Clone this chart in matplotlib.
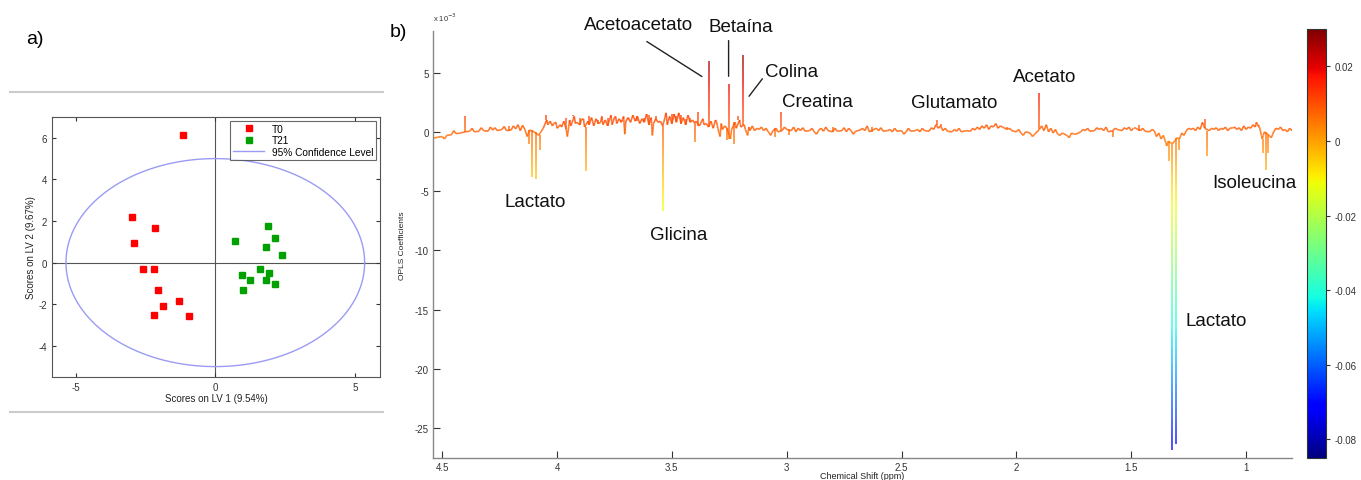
import numpy as np
import matplotlib
matplotlib.use('Agg')
import matplotlib.pyplot as plt
from matplotlib.collections import LineCollection
from matplotlib.lines import Line2D
from matplotlib import colors, cm
from matplotlib.ticker import FuncFormatter

plt.rcParams.update({
    'font.family': 'sans-serif',
    'font.sans-serif': ['Liberation Sans', 'DejaVu Sans'],
    'axes.unicode_minus': False,
})

W, H = 1361, 481

# ---- panel a: scores ----
T0_X = [-1.14, -2.99, -2.17, -2.90, -2.59, -2.20, -2.07, -1.29, -1.89, -2.18, -0.95]
T0_Y = [6.13, 2.21, 1.66, 0.94, -0.32, -0.32, -1.30, -1.86, -2.10, -2.53, -2.56]
T21_X = [1.90, 2.15, 0.72, 1.80, 2.38, 1.61, 1.92, 0.95, 1.24, 1.83, 2.14, 0.99]
T21_Y = [1.74, 1.18, 1.04, 0.74, 0.37, -0.32, -0.50, -0.59, -0.86, -0.85, -1.02, -1.30]
CONF_RX, CONF_RY = 5.35, 5.0

# ---- panel b: OPLS coefficients (x 1e-3) ----
# baseline sampled every 0.02 ppm from 4.54 down to 0.80
BASE_PPM_RANGE = (4.54, 0.80)
BASE_VALS = [
    -0.55, -0.45, -0.4, -0.3, -0.25, -0.15, -0.1, 0.0, 0.05, 0.0,
    0.05, 0.1, 0.05, 0.15, 0.1, 0.2, 0.1, 0.15, 0.25, 0.1,
    0.2, 0.15, 0.0, -0.3, 0.3, 0.6, 0.5, 0.3, 0.4, 0.2,
    0.5, 0.7, 0.6, 0.4, 0.6, 0.5, 0.7, 0.6, 0.5, 0.6,
    0.7, 0.8, 0.9, 0.8, 0.9, 0.7, 0.8, 0.6, 0.7, 0.8,
    0.5, 0.6, 0.7, 0.8, 0.7, 0.6, 0.8, 0.7, 0.5, 0.6,
    0.4, 0.3, 0.3, 0.2, 0.3, 0.2, 0.3, 0.4, 0.2, 0.1,
    0.1, 0.2, 0.1, 0.0, 0.1, 0.0, 0.1, 0.2, 0.1, 0.0,
    0.1, 0.05, 0.1, 0.0, 0.15, 0.05, 0.1, 0.0, 0.05, 0.1,
    0.0, 0.1, 0.05, 0.15, 0.1, 0.0, 0.2, 0.1, 0.05, 0.1,
    0.0, 0.05, 0.1, 0.0, 0.05, 0.1, 0.0, 0.1, 0.05, 0.2,
    0.3, 0.1, 0.05, 0.0, 0.05, 0.0, 0.1, 0.05, 0.15, 0.2,
    0.3, 0.2, 0.4, 0.3, 0.4, 0.2, 0.1, 0.0, -0.1, 0.0,
    -0.1, -0.2, 0.2, 0.1, 0.0, -0.1, -0.2, -0.1, -0.3, -0.1,
    -0.2, 0.0, 0.1, 0.05, 0.1, 0.2, 0.1, 0.0, 0.1, 0.2,
    0.1, 0.2, 0.1, 0.3, 0.1, 0.05, 0.0, 0.1, -0.1, -0.3,
    -0.8, -1.0, -0.5, -0.1, 0.1, 0.2, 0.1, 0.2, 0.3, 0.1,
    0.2, 0.1, 0.2, 0.1, 0.3, 0.2, 0.1, 0.2, 0.3, 0.4,
    0.3, 0.0, -0.3, 0.0, 0.2, 0.1, 0.0, 0.1,
]
# main signals (narrow lines)
PEAK_PPM = [4.40, 4.21, 4.12, 4.11, 4.09, 4.075, 4.05, 3.96, 3.93, 3.90,
            3.875, 3.86, 3.82, 3.78, 3.72, 3.69, 3.65, 3.62, 3.60, 3.57,
            3.54, 3.50, 3.48, 3.46, 3.44, 3.42, 3.40, 3.386, 3.34, 3.26,
            3.25, 3.23, 3.21, 3.19, 3.05, 3.025, 2.99, 2.80, 2.63, 2.345,
            2.33, 2.04, 1.90, 1.58, 1.465, 1.335, 1.322, 1.304, 1.29, 1.18,
            1.17, 0.945, 0.925, 0.915, 0.905, 0.87]
PEAK_VAL = [1.3, 0.5, -1.0, -3.8, -4.0, -1.5, 1.46, 1.2, 1.4, 1.2,
            -3.3, 1.3, 1.0, 1.2, 1.0, 1.1, 0.9, 1.2, 1.4, 1.3,
            -6.7, 1.5, 1.3, 1.4, 1.1, 1.2, -0.9, 1.7, 5.95, -0.7,
            4.0, -1.0, 1.3, 6.5, -0.4, 1.7, -0.3, 0.4, 0.4, 1.0,
            0.7, 0.4, 3.3, -0.4, 0.6, -2.5, -26.8, -26.3, -1.5, 1.1,
            -2.05, 0.5, -1.8, -3.2, -1.8, 0.3]
# extra trace points between the baseline samples
NOISE_PPM = [4.49, 4.45, 4.37, 4.33, 4.29, 4.27, 4.23, 4.19, 4.17, 4.15,
             4.13, 4.045, 4.03, 4.015, 4.005, 3.985, 3.97, 3.955, 3.945, 3.925,
             3.915, 3.895, 3.885, 3.865, 3.85, 3.845, 3.83, 3.81, 3.805, 3.79,
             3.77, 3.765, 3.75, 3.745, 3.73, 3.71, 3.705, 3.69, 3.67, 3.665,
             3.65, 3.63, 3.61, 3.59, 3.585, 3.57, 3.55, 3.53, 3.525, 3.51,
             3.49, 3.47, 3.45, 3.43, 3.41, 3.395, 3.37, 3.365, 3.35, 3.33,
             3.325, 3.31, 3.305, 3.29, 3.285, 3.27, 3.245, 3.225, 3.205, 3.185,
             3.17, 3.165, 3.15, 3.13, 3.11, 3.09, 3.07, 3.045, 3.01, 2.97,
             2.95, 2.93, 2.89, 2.87, 2.85, 2.83, 2.79, 2.75, 2.73, 2.71,
             2.67, 2.65, 2.61, 2.59, 2.55, 2.53, 2.49, 2.47, 2.43, 2.41,
             2.37, 2.35, 2.33, 2.31, 2.27, 2.25, 2.19, 2.17, 2.15, 2.13,
             2.11, 2.09, 2.07, 2.03, 1.99, 1.97, 1.93, 1.89, 1.87, 1.85,
             1.83, 1.81, 1.77, 1.75, 1.71, 1.69, 1.65, 1.63, 1.61, 1.57,
             1.53, 1.51, 1.49, 1.45, 1.41, 1.39, 1.37, 1.345, 1.29, 1.27,
             1.25, 1.23, 1.21, 1.19, 1.15, 1.13, 1.11, 1.09, 1.07, 1.05,
             1.03, 1.01, 0.99, 0.97, 0.955, 0.95, 0.93, 0.89, 0.87, 0.85,
             0.83, 0.81]
NOISE_VAL = [-0.6, 0.1, 0.3, 0.35, 0.4, 0.35, 0.45, 0.5, 0.6, 0.55,
             -0.4, 1.0, 0.9, 0.7, 0.8, 0.6, 0.9, -0.4, 1.0, 1.3,
             0.8, 1.0, 1.1, 0.9, 1.2, 0.9, 1.1, 0.8, 1.3, 1.0,
             1.1, 1.4, 1.2, 1.3, 1.1, 1.3, -0.2, 1.2, 1.4, 1.2,
             1.3, 1.1, 1.5, 1.2, -0.3, 1.1, 0.9, 1.2, 1.6, 1.3,
             1.5, 1.6, 1.2, 1.4, 1.0, 0.9, 0.9, 1.1, 0.7, 0.9,
             0.6, 1.0, 0.8, -0.4, 0.7, 0.5, -0.6, 0.8, 1.0, 0.6,
             -0.3, 0.4, 0.5, 0.3, 0.4, 0.3, -0.3, 0.3, 0.4, 0.4,
             0.3, 0.35, 0.3, -0.2, 0.3, 0.4, 0.3, 0.35, 0.3, -0.2,
             0.3, 0.5, 0.3, 0.35, 0.2, 0.3, -0.2, 0.3, 0.2, 0.3,
             0.35, 0.6, 0.5, 0.3, 0.2, 0.3, 0.3, 0.4, 0.5, 0.6,
             0.5, 0.7, 0.5, 0.3, 0.2, -0.3, -0.4, 0.5, 0.6, 0.3,
             0.2, -0.3, -0.5, -0.2, 0.2, 0.3, 0.35, 0.3, 0.4, 0.3,
             0.35, 0.4, 0.3, 0.3, 0.2, -0.4, -0.6, -1.2, -0.6, -0.3,
             0.3, 0.3, 0.4, 0.8, 0.3, 0.35, 0.3, 0.4, 0.3, 0.4,
             0.35, 0.5, 0.4, 0.6, 0.8, 0.6, -0.6, -0.5, 0.3, 0.4,
             0.2, 0.3]

CB_TICKS = [-0.08, -0.06, -0.04, -0.02, 0, 0.02]

# metabolite labels: (text, ppm, value)
LABELS = [
    ('Acetoacetato', 3.645, 9.05), ('Betaína', 3.20, 8.9),
    ('Colina', 2.978, 5.1), ('Creatina', 2.866, 2.58),
    ('Glutamato', 2.27, 2.44), ('Acetato', 1.876, 4.68),
    ('Lactato', 4.093, -5.85), ('Glicina', 3.47, -8.65),
    ('Isoleucina', 0.962, -4.3), ('Lactato', 1.131, -15.87),
]
LEADERS = [((3.609, 7.61), (3.369, 4.66)),
           ((3.253, 7.69), (3.253, 4.68)),
           ((3.106, 4.47), (3.164, 3.0))]


def px_ax(left, top, right, bottom):
    return [left / W, 1 - bottom / H, (right - left) / W, (bottom - top) / H]


fig = plt.figure(figsize=(W / 100, H / 100), dpi=100)

# ================= panel a =================
ax = fig.add_axes(px_ax(52, 118, 380, 378))
ax.axhline(0, color='#555555', lw=0.8, zorder=1)
ax.axvline(0, color='#555555', lw=0.8, zorder=1)
th = np.linspace(0, 2 * np.pi, 300)
ax.plot(T0_X, T0_Y, 's', color='#ff0000', ms=5, mec='#ff0000', label='T0', zorder=3)
ax.plot(T21_X, T21_Y, 's', color='#00a000', ms=5, mec='#00a000', label='T21', zorder=3)
ax.plot(CONF_RX * np.cos(th), CONF_RY * np.sin(th), color='#9b9bf5', lw=1.0,
        label='95% Confidence Level', zorder=2)
ax.set_xlim(-5.85, 5.9)
ax.set_ylim(-5.5, 7)
ax.set_xticks([-5, 0, 5])
ax.set_yticks([-4, -2, 0, 2, 4, 6])
ax.tick_params(direction='in', top=True, right=True, labelsize=7, length=3,
               colors='#333333')
for s in ax.spines.values():
    s.set_color('#555555')
    s.set_linewidth(0.8)
ax.set_xlabel('Scores on LV 1 (9.54%)', fontsize=7, labelpad=1, color='#222222')
ax.set_ylabel('Scores on LV 2 (9.67%)', fontsize=7, labelpad=2, color='#222222')
leg = ax.legend(loc='upper right', fontsize=7.3, frameon=True, fancybox=False,
                edgecolor='#444444', borderpad=0.3, labelspacing=0.15,
                handlelength=3.0, borderaxespad=0.35)
leg.get_frame().set_linewidth(0.8)

for yy in (93, 413):
    fig.add_artist(Line2D([10 / W, 383 / W], [1 - yy / H, 1 - yy / H],
                          color='#cccccc', lw=1.5, transform=fig.transFigure))
fig.text(35 / W, 1 - 40 / H, 'a)', fontsize=14, ha='center', va='center')

# ================= panel b =================
bx = fig.add_axes(px_ax(433, 32, 1292, 459))
norm = colors.Normalize(vmin=-0.085, vmax=0.030)
cmap = plt.get_cmap('jet')

base_ppm = np.linspace(BASE_PPM_RANGE[0], BASE_PPM_RANGE[1], len(BASE_VALS))
trace_ppm = np.concatenate([base_ppm, NOISE_PPM])
trace_val = np.concatenate([BASE_VALS, NOISE_VAL])
order = np.argsort(-trace_ppm, kind='stable')
trace_ppm, trace_val = trace_ppm[order], trace_val[order]


def split(x0, y0, x1, y1, segs, mids):
    n = max(1, int(abs(y1 - y0) / 0.25))
    t = np.linspace(0, 1, n + 1)
    xs = x0 + (x1 - x0) * t
    ys = y0 + (y1 - y0) * t
    for k in range(n):
        segs.append([(xs[k], ys[k]), (xs[k + 1], ys[k + 1])])
        mids.append(0.5 * (ys[k] + ys[k + 1]))


segs, mids = [], []
for i in range(len(trace_ppm) - 1):
    split(trace_ppm[i], trace_val[i], trace_ppm[i + 1], trace_val[i + 1], segs, mids)
for p, v in zip(PEAK_PPM, PEAK_VAL):
    b = trace_val[np.argmin(np.abs(trace_ppm - p))]
    split(p, b, p, v, segs, mids)

cvals = 0.003 * np.array(mids) + 0.0075   # colour on correlation scale
lc = LineCollection(segs, cmap=cmap, norm=norm, linewidths=1.2, alpha=0.8)
lc.set_array(cvals)
bx.add_collection(lc)

bx.set_xlim(4.54, 0.80)
bx.set_ylim(-27.5, 8.5)
bx.set_xticks([4.5, 4, 3.5, 3, 2.5, 2, 1.5, 1])
bx.set_xticklabels(['4.5', '4', '3.5', '3', '2.5', '2', '1.5', '1'])
bx.set_yticks([-25, -20, -15, -10, -5, 0, 5])
bx.tick_params(direction='in', labelsize=7, length=5, colors='#333333', pad=3)
bx.spines['top'].set_visible(False)
bx.spines['right'].set_visible(False)
for s in ('left', 'bottom'):
    bx.spines[s].set_color('#888888')
    bx.spines[s].set_linewidth(1.0)
bx.set_ylabel('OPLS Coefficients', fontsize=6, labelpad=6, color='#222222')
fig.text(862 / W, 1 - 477 / H, 'Chemical Shift (ppm)', fontsize=6.5,
         ha='center', va='center', color='#222222')
bx.text(0.0, 1.0 + 14 / 427, r'x 10$^{-3}$', transform=bx.transAxes,
        fontsize=5.5, ha='left', va='center', color='#333333')

for txt, xp, yv in LABELS:
    bx.text(xp, yv, txt, fontsize=13.5, ha='center', va='center', color='#111111')
for (x0, y0), (x1, y1) in LEADERS:
    bx.annotate('', xy=(x1, y1), xytext=(x0, y0),
                arrowprops=dict(arrowstyle='-', color='#222222', lw=1.0,
                                shrinkA=0, shrinkB=0))
fig.text(398 / W, 1 - 33 / H, 'b)', fontsize=14, ha='center', va='center')

# colorbar
cax = fig.add_axes(px_ax(1307, 30, 1326, 459))
sm = cm.ScalarMappable(norm=norm, cmap=cmap)
cb = fig.colorbar(sm, cax=cax, ticks=CB_TICKS)
cb.ax.yaxis.set_major_formatter(FuncFormatter(lambda v, _: f'{v:g}'))
cb.ax.tick_params(labelsize=7, length=3, colors='#333333')
cb.outline.set_linewidth(0.8)
cb.outline.set_edgecolor('#333333')

fig.savefig('out.png', dpi=100)
